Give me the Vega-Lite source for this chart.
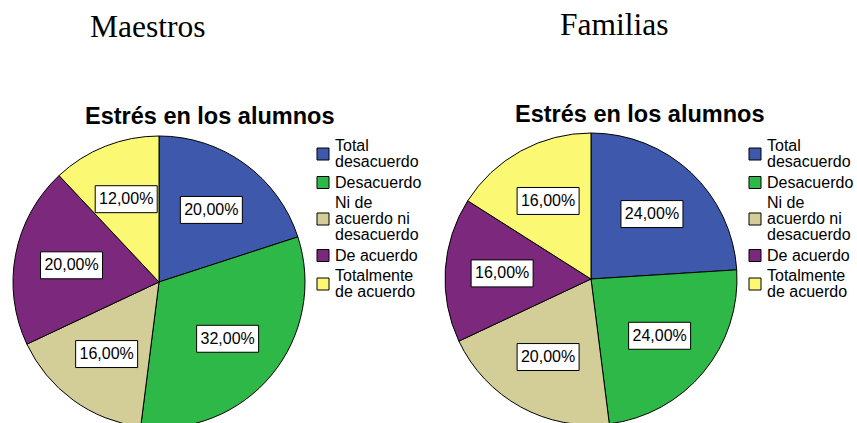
{
  "$schema": "https://vega.github.io/schema/vega-lite/v6.json",
  "padding": {"left": 11, "top": 10, "right": 0, "bottom": 0},
  "autosize": {"type": "pad"},
  "background": "white",
  "datasets": {
    "maestros": [
      {"categoria": "Total desacuerdo", "orden": 1, "pct": 20},
      {"categoria": "Desacuerdo", "orden": 2, "pct": 32},
      {"categoria": "Ni de acuerdo ni desacuerdo", "orden": 3, "pct": 16},
      {"categoria": "De acuerdo", "orden": 4, "pct": 20},
      {"categoria": "Totalmente de acuerdo", "orden": 5, "pct": 12}
    ],
    "familias": [
      {"categoria": "Total desacuerdo", "orden": 1, "pct": 24},
      {"categoria": "Desacuerdo", "orden": 2, "pct": 24},
      {"categoria": "Ni de acuerdo ni desacuerdo", "orden": 3, "pct": 20},
      {"categoria": "De acuerdo", "orden": 4, "pct": 16},
      {"categoria": "Totalmente de acuerdo", "orden": 5, "pct": 16}
    ]
  },
  "hconcat": [
    {
      "title": {"text": "Maestros", "anchor": "start", "dx": 79, "font": "Liberation Serif", "fontSize": 31.5, "fontWeight": "normal", "color": "black", "offset": 61},
      "vconcat": [
        {
          "title": {"text": "Estrés en los alumnos", "anchor": "start", "dx": 74, "font": "Liberation Sans", "fontSize": 23.5, "fontWeight": "bold", "color": "black", "offset": 5},
          "width": 292,
          "height": 298,
          "data": {"name": "maestros"},
          "transform": [
            {"window": [{"op": "sum", "field": "pct", "as": "cum"}], "sort": [{"field": "orden"}], "frame": [null, 0]},
            {"joinaggregate": [{"op": "sum", "field": "pct", "as": "total"}]},
            {"calculate": "2*PI*(datum.cum - datum.pct/2)/datum.total", "as": "mid"},
            {"calculate": "0.61*sin(datum.mid)", "as": "lx"},
            {"calculate": "0.61*cos(datum.mid)", "as": "ly"},
            {"calculate": "replace(format(datum.pct,'.2f'),'.',',') + '%'", "as": "etiqueta"}
          ],
          "layer": [
            {
              "mark": {"type": "arc", "stroke": "black", "strokeWidth": 1, "outerRadius": 146},
              "encoding": {
                "theta": {"field": "pct", "type": "quantitative", "stack": true},
                "order": {"field": "orden", "type": "quantitative"},
                "color": {
                  "field": "categoria", "type": "nominal",
                  "scale": {"domain": ["Total desacuerdo", "Desacuerdo", "Ni de acuerdo ni desacuerdo", "De acuerdo", "Totalmente de acuerdo"], "range": ["#3E58AC", "#2EB848", "#D3CE97", "#7C287D", "#FBF873"]},
                  "legend": {
                    "title": null,
                    "labelExpr": "datum.label == 'Total desacuerdo' ? ['Total','desacuerdo'] : datum.label == 'Ni de acuerdo ni desacuerdo' ? ['Ni de','acuerdo ni','desacuerdo'] : datum.label == 'Totalmente de acuerdo' ? ['Totalmente','de acuerdo'] : datum.label"
                  }
                }
              }
            },
            {
              "mark": {"type": "point", "shape": "M-1,-0.435H1V0.435H-1Z", "filled": true, "fill": "white", "stroke": "black", "strokeWidth": 1, "size": 3844, "opacity": 1},
              "encoding": {
                "x": {"field": "lx", "type": "quantitative", "scale": {"domain": [-1, 1], "nice": false, "zero": false}, "axis": null},
                "y": {"field": "ly", "type": "quantitative", "scale": {"domain": [-1.02055, 1.02055], "nice": false, "zero": false}, "axis": null}
              }
            },
            {
              "mark": {"type": "text", "font": "Liberation Sans", "fontSize": 16, "color": "black"},
              "encoding": {
                "x": {"field": "lx", "type": "quantitative"},
                "y": {"field": "ly", "type": "quantitative"},
                "text": {"field": "etiqueta", "type": "nominal"}
              }
            }
          ]
        }
      ],
      "resolve": {"scale": {"color": "independent"}, "legend": {"color": "independent"}}
    },
    {
      "title": {"text": "Familias", "anchor": "start", "dx": 117, "font": "Liberation Serif", "fontSize": 31.5, "fontWeight": "normal", "color": "black", "offset": 61},
      "vconcat": [
        {
          "title": {"text": "Estrés en los alumnos", "anchor": "start", "dx": 72, "font": "Liberation Sans", "fontSize": 23.5, "fontWeight": "bold", "color": "black", "offset": 5},
          "width": 292,
          "height": 292,
          "data": {"name": "familias"},
          "transform": [
            {"window": [{"op": "sum", "field": "pct", "as": "cum"}], "sort": [{"field": "orden"}], "frame": [null, 0]},
            {"joinaggregate": [{"op": "sum", "field": "pct", "as": "total"}]},
            {"calculate": "2*PI*(datum.cum - datum.pct/2)/datum.total", "as": "mid"},
            {"calculate": "0.61*sin(datum.mid)", "as": "lx"},
            {"calculate": "0.61*cos(datum.mid)", "as": "ly"},
            {"calculate": "replace(format(datum.pct,'.2f'),'.',',') + '%'", "as": "etiqueta"}
          ],
          "layer": [
            {
              "mark": {"type": "arc", "stroke": "black", "strokeWidth": 1, "outerRadius": 146},
              "encoding": {
                "theta": {"field": "pct", "type": "quantitative", "stack": true},
                "order": {"field": "orden", "type": "quantitative"},
                "color": {
                  "field": "categoria", "type": "nominal",
                  "scale": {"domain": ["Total desacuerdo", "Desacuerdo", "Ni de acuerdo ni desacuerdo", "De acuerdo", "Totalmente de acuerdo"], "range": ["#3E58AC", "#2EB848", "#D3CE97", "#7C287D", "#FBF873"]},
                  "legend": {
                    "title": null,
                    "labelExpr": "datum.label == 'Total desacuerdo' ? ['Total','desacuerdo'] : datum.label == 'Ni de acuerdo ni desacuerdo' ? ['Ni de','acuerdo ni','desacuerdo'] : datum.label == 'Totalmente de acuerdo' ? ['Totalmente','de acuerdo'] : datum.label"
                  }
                }
              }
            },
            {
              "mark": {"type": "point", "shape": "M-1,-0.435H1V0.435H-1Z", "filled": true, "fill": "white", "stroke": "black", "strokeWidth": 1, "size": 3844, "opacity": 1},
              "encoding": {
                "x": {"field": "lx", "type": "quantitative", "scale": {"domain": [-1, 1], "nice": false, "zero": false}, "axis": null},
                "y": {"field": "ly", "type": "quantitative", "scale": {"domain": [-1, 1], "nice": false, "zero": false}, "axis": null}
              }
            },
            {
              "mark": {"type": "text", "font": "Liberation Sans", "fontSize": 16, "color": "black"},
              "encoding": {
                "x": {"field": "lx", "type": "quantitative"},
                "y": {"field": "ly", "type": "quantitative"},
                "text": {"field": "etiqueta", "type": "nominal"}
              }
            }
          ]
        }
      ],
      "resolve": {"scale": {"color": "independent"}, "legend": {"color": "independent"}}
    }
  ],
  "spacing": 8,
  "resolve": {"scale": {"color": "independent"}, "legend": {"color": "independent"}},
  "config": {
    "view": {"stroke": null},
    "style": {
      "guide-label": {
        "lineHeight": 16,
        "dy": {"signal": "datum.value == 'Ni de acuerdo ni desacuerdo' ? -16 : (datum.value == 'Total desacuerdo' || datum.value == 'Totalmente de acuerdo') ? -8 : 0"}
      }
    },
    "legend": {
      "orient": "right",
      "offset": -3,
      "padding": 13,
      "symbolType": "square",
      "symbolSize": 144,
      "symbolStrokeColor": "black",
      "symbolStrokeWidth": 1,
      "symbolOpacity": 1,
      "labelFont": "Liberation Sans",
      "labelFontSize": 16,
      "labelColor": "black",
      "labelLimit": 0,
      "labelOffset": 4,
      "rowPadding": 4.5
    }
  }
}
